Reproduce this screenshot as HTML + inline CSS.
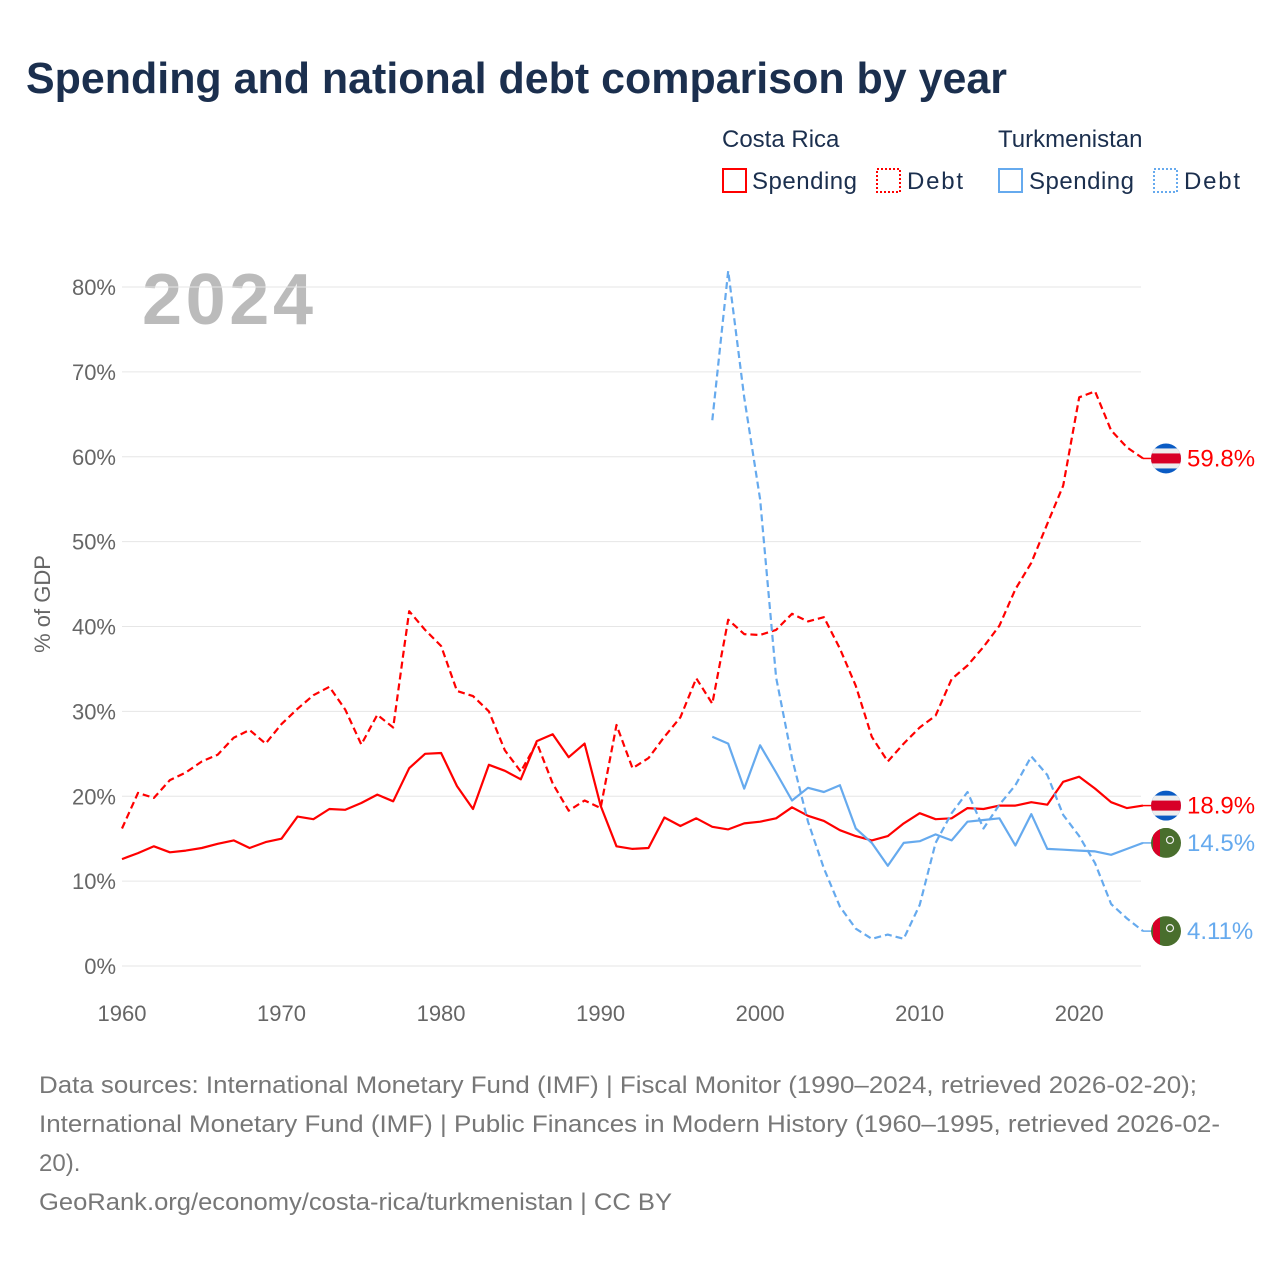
<!DOCTYPE html>
<html><head><meta charset="utf-8"><style>
body{margin:0;background:#fff;font-family:"Liberation Sans",sans-serif;}
#wrap{position:relative;width:1280px;height:1280px;overflow:hidden;}
</style></head><body>
<div id="wrap">
<svg id="svg" width="1280" height="1280" xmlns="http://www.w3.org/2000/svg">
<text x="26" y="93" font-size="44" font-weight="bold" fill="#1b2f4e" textLength="981" lengthAdjust="spacingAndGlyphs">Spending and national debt comparison by year</text>
<g font-size="24" fill="#1b2f4e">
<text x="722" y="147">Costa Rica</text>
<text x="998" y="147">Turkmenistan</text>
<rect x="723" y="169" width="23" height="23" fill="none" stroke="#ff0000" stroke-width="2"/>
<text x="752" y="189" textLength="105">Spending</text>
<rect x="877" y="169" width="23" height="23" fill="none" stroke="#ff0000" stroke-width="2" stroke-dasharray="2,2"/>
<text x="907" y="189" textLength="56">Debt</text>
<rect x="999" y="169" width="23" height="23" fill="none" stroke="#66aaee" stroke-width="2"/>
<text x="1029" y="189" textLength="105">Spending</text>
<rect x="1154" y="169" width="23" height="23" fill="none" stroke="#66aaee" stroke-width="2" stroke-dasharray="2,2"/>
<text x="1184" y="189" textLength="56">Debt</text>
</g>
<text x="142" y="324" font-size="72" font-weight="bold" fill="#bbbbbb" textLength="171">2024</text>
<text transform="translate(50,604) rotate(-90)" text-anchor="middle" font-size="22" fill="#666">% of GDP</text>
<g id="grid"></g><g id="lines"></g><g id="ends"></g>
<g font-size="24" fill="#777">
<text x="39" y="1093" textLength="1158" lengthAdjust="spacingAndGlyphs">Data sources: International Monetary Fund (IMF) | Fiscal Monitor (1990–2024, retrieved 2026-02-20);</text>
<text x="39" y="1132" textLength="1181" lengthAdjust="spacingAndGlyphs">International Monetary Fund (IMF) | Public Finances in Modern History (1960–1995, retrieved 2026-02-</text>
<text x="39" y="1171">20).</text>
<text x="39" y="1210" textLength="633" lengthAdjust="spacingAndGlyphs">GeoRank.org/economy/costa-rica/turkmenistan | CC BY</text>
</g>
</svg></div>
<script>
const crYears=[];for(let y=1960;y<=2024;y++)crYears.push(y);
const tmYears=[];for(let y=1997;y<=2024;y++)tmYears.push(y);
const crSpending=[12.6,13.3,14.1,13.4,13.6,13.9,14.4,14.8,13.9,14.6,15.0,17.6,17.3,18.5,18.4,19.2,20.2,19.4,23.3,25.0,25.1,21.2,18.5,23.7,23.0,22.0,26.5,27.3,24.6,26.2,18.9,14.1,13.8,13.9,17.5,16.5,17.4,16.4,16.1,16.8,17.0,17.4,18.7,17.7,17.1,16.0,15.3,14.8,15.3,16.8,18.0,17.3,17.4,18.6,18.5,18.9,18.9,19.3,19.0,21.7,22.3,20.9,19.3,18.6,18.9];
const crDebt=[16.2,20.4,19.8,21.9,22.8,24.1,24.9,26.9,27.8,26.2,28.5,30.3,31.9,32.9,30.2,26.1,29.6,28.1,41.8,39.6,37.7,32.4,31.8,30.0,25.4,22.9,26.3,21.5,18.3,19.5,18.6,28.4,23.3,24.5,27.0,29.3,33.9,30.9,40.8,39.1,39.0,39.6,41.5,40.6,41.1,37.4,33.0,27.0,24.1,26.2,28.1,29.5,33.8,35.4,37.6,40.1,44.4,47.5,52.1,56.6,67.0,67.7,63.1,61.1,59.8];
const tmSpending=[27.0,26.2,20.9,26.0,22.8,19.5,21.0,20.5,21.3,16.2,14.5,11.8,14.5,14.7,15.5,14.8,17.0,17.2,17.4,14.2,17.9,13.8,13.7,13.6,13.5,13.1,13.8,14.5];
const tmDebt=[64.3,81.9,67.0,55.0,34.0,24.5,17.0,11.5,7.0,4.4,3.2,3.7,3.2,7.2,14.5,18.0,20.5,16.2,19.0,21.3,24.7,22.5,17.8,15.3,12.1,7.3,5.6,4.11];
const yTicks=[0,10,20,30,40,50,60,70,80];
const xTicks=[1960,1970,1980,1990,2000,2010,2020];
const endLabels=["59.8%","18.9%","14.5%","4.11%"];
const X=y=>122+(y-1960)*(1143-122)/64;
const Y=v=>966-v*(966-287)/80;
const NS="http://www.w3.org/2000/svg";
function mk(tag,attrs,parent){const e=document.createElementNS(NS,tag);for(const k in attrs)e.setAttribute(k,attrs[k]);parent.appendChild(e);return e;}
const grid=document.getElementById('grid'),lines=document.getElementById('lines'),ends=document.getElementById('ends');
yTicks.forEach(t=>{
 const l=mk('line',{x1:122,x2:1141,y1:Y(t),y2:Y(t),stroke:'#e6e6e6','stroke-width':1},grid);
 
 
 const tx=mk('text',{x:116,y:Y(t)+8,'text-anchor':'end','font-size':22,fill:'#666'},grid);tx.textContent=t+'%';
 
 
});
xTicks.forEach(t=>{
 const tx=mk('text',{x:X(t),y:1021,'text-anchor':'middle','font-size':22,fill:'#666'},grid);tx.textContent=t;
 
 
});
function series(xs,vs,color,dash,name){
 const d=vs.map((v,i)=>(i?'L':'M')+X(xs[i]).toFixed(1)+','+Y(v).toFixed(1)).join('');
 const p=mk('path',{d:d,fill:'none',stroke:color,'stroke-width':2.2,'stroke-dasharray':dash,'stroke-linejoin':'round'},lines);
 
 
}
series(crYears,crDebt,'#ff0000','7,4','line-cr-debt');
series(crYears,crSpending,'#ff0000','none','line-cr-spending');
series(tmYears,tmDebt,'#66aaee','7,4','line-tm-debt');
series(tmYears,tmSpending,'#66aaee','none','line-tm-spending');
const endData=[[crDebt[crDebt.length-1],'cr','#ff0000'],[crSpending[crSpending.length-1],'cr','#ff0000'],[tmSpending[tmSpending.length-1],'tm','#66aaee'],[tmDebt[tmDebt.length-1],'tm','#66aaee']];
let defs=mk('defs',{},ends);
endData.forEach((e,i)=>{
 const cy=Y(e[0]),cx=1166;
 mk('line',{x1:1143,x2:1152,y1:cy,y2:cy,stroke:e[2],'stroke-width':1.5},ends);
 const cp=mk('clipPath',{id:'c'+i},defs);mk('circle',{cx:cx,cy:cy,r:15},cp);
 const g=mk('g',{'clip-path':'url(#c'+i+')'},ends);
 
 
 if(e[1]==='cr'){
  mk('rect',{x:cx-15,y:cy-15,width:30,height:30,fill:'#0a5bc4'},g);
  mk('rect',{x:cx-15,y:cy-10,width:30,height:20,fill:'#eeeeee'},g);
  mk('rect',{x:cx-15,y:cy-5,width:30,height:10,fill:'#d80027'},g);
 } else {
  mk('rect',{x:cx-15,y:cy-15,width:30,height:30,fill:'#496e2d'},g);
  mk('rect',{x:cx-13,y:cy-15,width:7,height:30,fill:'#d80027'},g);
  mk('circle',{cx:cx+4,cy:cy-3,r:3.5,fill:'none',stroke:'#eee','stroke-width':1.2},g);
 }
 const t=mk('text',{x:1187,y:cy+8,'font-size':24,fill:e[2]},ends);t.textContent=endLabels[i];
 
 
});
</script>
</body></html>
